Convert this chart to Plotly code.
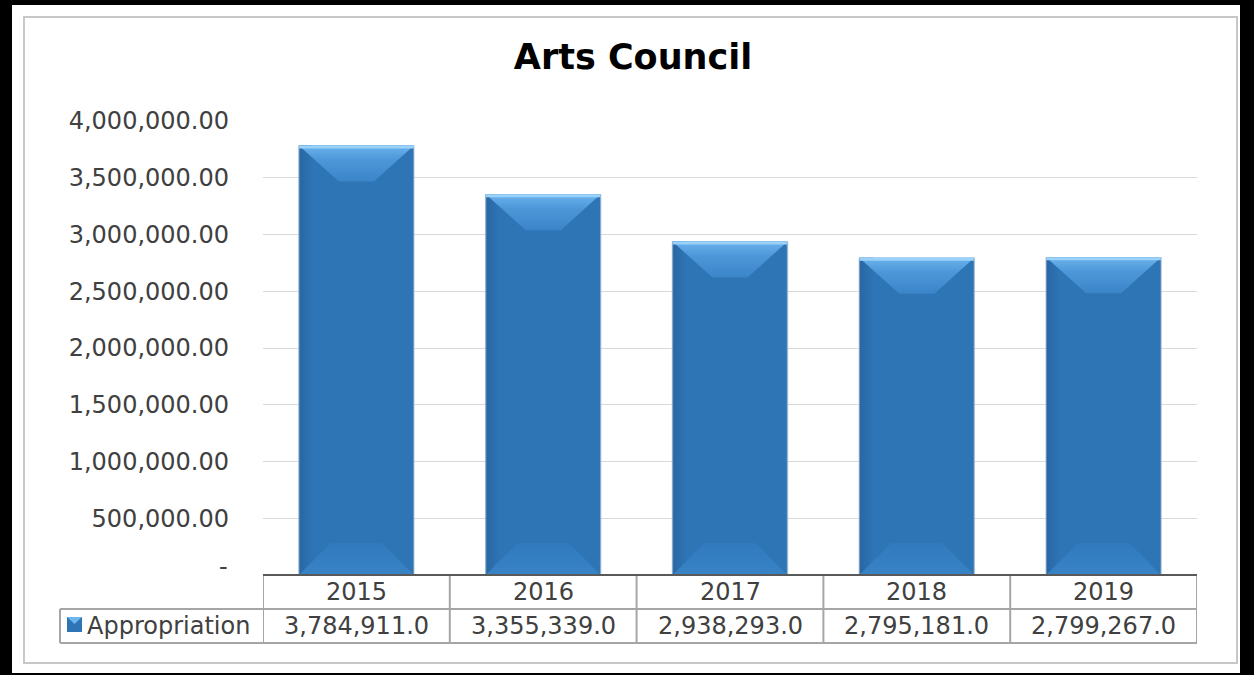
import plotly.graph_objects as go

# ---- data ----
years = ["2015", "2016", "2017", "2018", "2019"]
appropriation = [3784911.0, 3355339.0, 2938293.0, 2795181.0, 2799267.0]
series_name = "Appropriation"
y_tickvals = [0, 500000, 1000000, 1500000, 2000000, 2500000, 3000000, 3500000, 4000000]
y_ticktext = ["-", "500,000.00", "1,000,000.00", "1,500,000.00", "2,000,000.00",
              "2,500,000.00", "3,000,000.00", "3,500,000.00", "4,000,000.00"]
title_text = "Arts Council"

# ---- geometry ----
W, H = 1254, 675
L, R, T, B = 263, 1197, 121, 575          # plot area in pixels
YMAX = 4000000
FONT = "DejaVu Sans"
TXT = "#404040"
GRID = "#d9d9d9"
CELL = "#a6a6a6"
BASE = "#2e75b6"
FS = 24

pw, ph = R - L, B - T
cat_px = pw / len(years)


def px(x):
    return (x - L) / pw


def py(y):
    return (B - y) / ph


def dy_val(pixels):
    return pixels / ph * YMAX


def dx_val(pixels):
    return pixels / cat_px


fig = go.Figure()

half = 0.308
xs = list(range(len(years)))

fig.add_trace(go.Bar(
    x=xs, y=appropriation, width=2 * half, name=series_name,
    marker=dict(color=BASE, line=dict(width=0)), hoverinfo="skip", showlegend=False,
))

poly = dict(mode="lines", fill="toself", line=dict(width=0), hoverinfo="skip", showlegend=False)

for i, v in zip(xs, appropriation):
    x0, x1 = i - half, i + half
    # slightly darker left face
    sw = dx_val(14)
    fig.add_trace(go.Scatter(
        x=[x0, x0 + sw, x0 + sw, x0, x0], y=[0, 0, v, v, 0],
        fillgradient=dict(type="horizontal", colorscale=[[0, "#2966a2"], [1, BASE]]),
        **poly))
    # bottom bevel
    bd, bdx = dy_val(32), dx_val(32)
    fig.add_trace(go.Scatter(
        x=[x0, x1, x1 - bdx, x0 + bdx, x0], y=[0, 0, bd, bd, 0],
        fillgradient=dict(type="vertical", colorscale=[[0, "#3882c6"], [1, "#307abd"]]),
        **poly))
    # top bevel
    td, tdx = dy_val(36), dx_val(40)
    fig.add_trace(go.Scatter(
        x=[x0, x1, x1 - tdx, x0 + tdx, x0], y=[v, v, v - td, v - td, v],
        fillgradient=dict(type="vertical", colorscale=[[0, "#3a84c8"], [0.6, "#4d97d9"], [1, "#6cb3ec"]]),
        **poly))
    # highlight along the top edge
    fig.add_trace(go.Scatter(
        x=[x0, x1], y=[v - dy_val(1.5), v - dy_val(1.5)], mode="lines",
        line=dict(color="#9ad2fa", width=3), hoverinfo="skip", showlegend=False))
    # soft side edges
    for xe in (x0, x1):
        fig.add_trace(go.Scatter(
            x=[xe, xe], y=[0, v], mode="lines",
            line=dict(color="rgba(160,185,210,0.6)", width=1.5), hoverinfo="skip", showlegend=False))

shapes = []
# black frame with white card
shapes.append(dict(type="rect", xref="paper", yref="paper", layer="below",
                   x0=px(12), x1=px(1240), y0=py(673), y1=py(5),
                   fillcolor="white", line=dict(width=0)))
shapes.append(dict(type="rect", xref="paper", yref="paper", layer="below",
                   x0=px(24), x1=px(1237), y0=py(663), y1=py(17),
                   fillcolor="rgba(0,0,0,0)", line=dict(color="#c8c8c8", width=2)))

# data table lines
row1, row2 = 609, 643
lab_left = 60
for k in range(len(years) + 1):
    xk = k - 0.5
    shapes.append(dict(type="line", xref="x", yref="paper", x0=xk, x1=xk,
                       y0=py(B), y1=py(row2), line=dict(color=CELL, width=2)))
shapes.append(dict(type="line", xref="paper", yref="paper", x0=px(lab_left), x1=px(R),
                   y0=py(row1), y1=py(row1), line=dict(color=CELL, width=2)))
shapes.append(dict(type="line", xref="paper", yref="paper", x0=px(lab_left), x1=px(R),
                   y0=py(row2), y1=py(row2), line=dict(color=CELL, width=2)))
shapes.append(dict(type="line", xref="paper", yref="paper", x0=px(lab_left), x1=px(lab_left),
                   y0=py(row1), y1=py(row2), line=dict(color=CELL, width=2)))
# axis line on top of the table
shapes.append(dict(type="line", xref="paper", yref="paper", x0=px(L), x1=px(R),
                   y0=py(B), y1=py(B), line=dict(color="#595959", width=2)))

# legend key in the table
kx0, kx1, ky0, ky1 = 67, 82, 617, 632
shapes.append(dict(type="rect", xref="paper", yref="paper",
                   x0=px(kx0), x1=px(kx1), y0=py(ky1), y1=py(ky0),
                   fillcolor=BASE, line=dict(width=0)))
shapes.append(dict(type="path", xref="paper", yref="paper",
                   path=f"M {px(kx0)} {py(ky0)} L {px(kx1)} {py(ky0)} L {px((kx0 + kx1) / 2)} {py(ky0 + 7)} Z",
                   fillcolor="#6fb5ee", line=dict(width=0)))

annotations = []
cell_font = dict(family=FONT, size=FS, color=TXT)
for i, (yr, val) in enumerate(zip(years, appropriation)):
    annotations.append(dict(x=i, y=py((B + row1) / 2), xref="x", yref="paper",
                            xanchor="center", yanchor="middle",
                            text=yr, showarrow=False, font=cell_font))
    annotations.append(dict(x=i, y=py((row1 + row2) / 2), xref="x", yref="paper",
                            xanchor="center", yanchor="middle",
                            text=f"{val:,.1f}", showarrow=False, font=cell_font))
annotations.append(dict(x=px(85), y=py((row1 + row2) / 2), xref="paper", yref="paper",
                        xanchor="left", yanchor="middle", text=series_name, showarrow=False,
                        font=cell_font))
# zero label sits a little above the axis line
annotations.append(dict(x=px(230), y=py(567), xref="paper", yref="paper",
                        xanchor="right", yanchor="middle", text=y_ticktext[0], showarrow=False,
                        font=cell_font))

fig.update_layout(
    width=W, height=H, autosize=False,
    margin=dict(l=L, r=W - R, t=T, b=H - B, pad=0),
    paper_bgcolor="black", plot_bgcolor="white",
    title=dict(text=f"<b>{title_text}</b>", x=633 / W, xref="container", xanchor="center",
               y=1 - 57 / H, yref="container", yanchor="middle",
               font=dict(family=FONT, size=35, color="black")),
    xaxis=dict(range=[-0.5, len(years) - 0.5], showticklabels=False, showgrid=False,
               zeroline=False, showline=False, fixedrange=True),
    yaxis=dict(range=[0, YMAX], tickvals=y_tickvals[1:], ticktext=y_ticktext[1:],
               showgrid=True, gridcolor=GRID, gridwidth=1, zeroline=False, showline=False,
               ticks="", ticklabelstandoff=33,
               tickfont=dict(family=FONT, size=FS, color=TXT), fixedrange=True),
    shapes=shapes, annotations=annotations, bargap=0.38,
)

fig.write_html("out.html")
